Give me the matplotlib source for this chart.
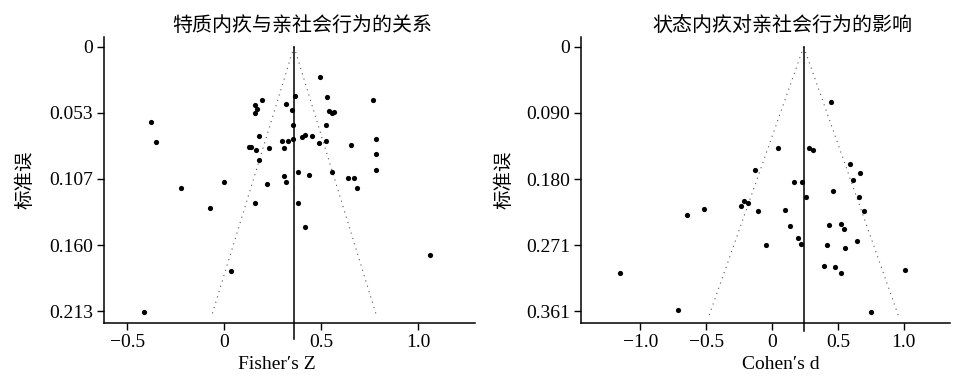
import numpy as np
import matplotlib
matplotlib.use("Agg")
import matplotlib.pyplot as plt

plt.rcParams["font.family"] = ["Liberation Serif", "DejaVu Serif"]
plt.rcParams["font.size"] = 14
cjk = ["Noto Sans CJK SC", "DejaVu Sans"]

# left panel: trait guilt vs prosocial behaviour (Fisher's Z)
trait_title = "特质内疚与亲社会行为的关系"
trait_z = [-0.375, -0.349, -0.223, -0.002, 0.197, 0.160, 0.169, 0.160, 0.320, 0.349,
           0.357, 0.179, 0.297, 0.331, 0.358, 0.129, 0.139, 0.163, 0.232, 0.309,
           0.180, 0.309, 0.321, 0.222, 0.495, 0.366, 0.529, 0.766, 0.541, 0.555,
           0.567, 0.527, 0.404, 0.418, 0.452, 0.490, 0.527, 0.785, 0.653, 0.784,
           0.784, 0.380, 0.440, 0.555, 0.639, 0.669, 0.686, 0.160, -0.072, 0.038,
           -0.412, 0.380, 0.416, 1.060]
trait_se = [0.0605, 0.0765, 0.1135, 0.1089, 0.0430, 0.0474, 0.0503, 0.0535, 0.0458, 0.0514,
            0.0631, 0.0719, 0.0757, 0.0757, 0.0747, 0.0805, 0.0808, 0.0835, 0.0816, 0.0813,
            0.0912, 0.1041, 0.1094, 0.1108, 0.0241, 0.0396, 0.0402, 0.0426, 0.0516, 0.0535,
            0.0530, 0.0634, 0.0731, 0.0711, 0.0717, 0.0773, 0.0760, 0.0744, 0.0795, 0.0864,
            0.0990, 0.1014, 0.1036, 0.1012, 0.1060, 0.1060, 0.1135, 0.1261, 0.1301, 0.1804,
            0.2136, 0.1261, 0.1453, 0.1675]
trait_mean = 0.361
trait_se_max = 0.217
trait_yticks = [0, 0.0533, 0.1066, 0.160, 0.2132]
trait_ylabels = ["0", "0.053", "0.107", "0.160", "0.213"]
trait_xticks = [-0.5, 0, 0.5, 1.0]
trait_xlabels = ["\u22120.5", "0", "0.5", "1.0"]

# right panel: state guilt effect on prosocial behaviour (Cohen's d)
state_title = "状态内疚对亲社会行为的影响"
state_d = [0.448, 0.043, 0.281, 0.311, -0.129, 0.595, 0.668, 0.613, 0.167, 0.228,
           0.461, 0.258, 0.658, -1.152, -0.716, -0.645, -0.516, -0.235, -0.215, -0.185,
           -0.106, 0.099, 0.139, 0.197, 0.220, -0.046, 0.699, 0.431, 0.526, 0.544,
           0.418, 0.554, 0.648, 0.393, 0.481, 0.526, 1.012, 0.752]
state_se = [0.0752, 0.1377, 0.1386, 0.1404, 0.1680, 0.1604, 0.1726, 0.1816, 0.1839, 0.1839,
            0.1965, 0.2052, 0.2052, 0.3089, 0.3596, 0.2301, 0.2210, 0.2169, 0.2101, 0.2128,
            0.2242, 0.2229, 0.2446, 0.2604, 0.2695, 0.2708, 0.2242, 0.2433, 0.2414, 0.2487,
            0.2699, 0.2740, 0.2650, 0.2994, 0.3007, 0.3080, 0.3048, 0.3615]
state_mean = 0.241
state_se_max = 0.371
state_yticks = [0, 0.09025, 0.1805, 0.27075, 0.361]
state_ylabels = ["0", "0.090", "0.180", "0.271", "0.361"]
state_xticks = [-1.0, -0.5, 0, 0.5, 1.0]
state_xlabels = ["\u22121.0", "\u22120.5", "0", "0.5", "1.0"]


def funnel(ax, x, se, mean, se_max, xlim, ylim, yticks, ylabels, xticks, xlabels,
           title, xlabel, title_x, xlabel_x, ylabel_x, line_ext):
    ax.scatter(x, se, s=14, color="black", zorder=3, linewidths=0)

    se_line = np.array([0, se_max])
    ax.plot(mean - 1.96 * se_line, se_line, color="#555555", lw=0.8,
            linestyle=(0, (1, 4)))
    ax.plot(mean + 1.96 * se_line, se_line, color="#555555", lw=0.8,
            linestyle=(0, (1, 4)))
    # mean line runs a little past the x axis, as in the original
    ax.plot([mean, mean], [0, ylim[0] + line_ext * (ylim[0] - ylim[1])],
            color="black", lw=1.1, clip_on=False, zorder=2)

    ax.set_xlim(*xlim)
    ax.set_ylim(*ylim)
    ax.set_yticks(yticks)
    ax.set_yticklabels(ylabels)
    ax.set_xticks(xticks)
    ax.set_xticklabels(xlabels)
    ax.tick_params(direction="out", length=5, width=1, pad=3)

    for side in ["top", "right"]:
        ax.spines[side].set_visible(False)
    for side in ["left", "bottom"]:
        ax.spines[side].set_linewidth(1.1)

    ax.text(title_x, 1.005, title, transform=ax.transAxes, ha="center", va="bottom",
            fontsize=14.4, family=cjk)
    ax.set_xlabel(xlabel, fontsize=14)
    ax.xaxis.set_label_coords(xlabel_x, -0.115)
    ax.set_ylabel("标准误", fontsize=14, family=cjk)
    ax.yaxis.set_label_coords(ylabel_x, 0.5)


fig = plt.figure(figsize=(9.74, 3.78), dpi=100)
ax1 = fig.add_axes([0.1068, 0.1455, 0.3809, 0.7566])
ax2 = fig.add_axes([0.5965, 0.1455, 0.3789, 0.7566])

funnel(ax1, trait_z, trait_se, trait_mean, trait_se_max,
       (-0.619, 1.294), (0.2227, -0.0078), trait_yticks, trait_ylabels,
       trait_xticks, trait_xlabels, trait_title, "Fisher\u2032s Z", 0.534, 0.465, -0.186, 0.055)

funnel(ax2, state_d, state_se, state_mean, state_se_max,
       (-1.450, 1.352), (0.3768, -0.0132), state_yticks, state_ylabels,
       state_xticks, state_xlabels, state_title, "Cohen\u2032s d", 0.545, 0.542, -0.179, 0.028)

fig.savefig("out.png", dpi=100)
